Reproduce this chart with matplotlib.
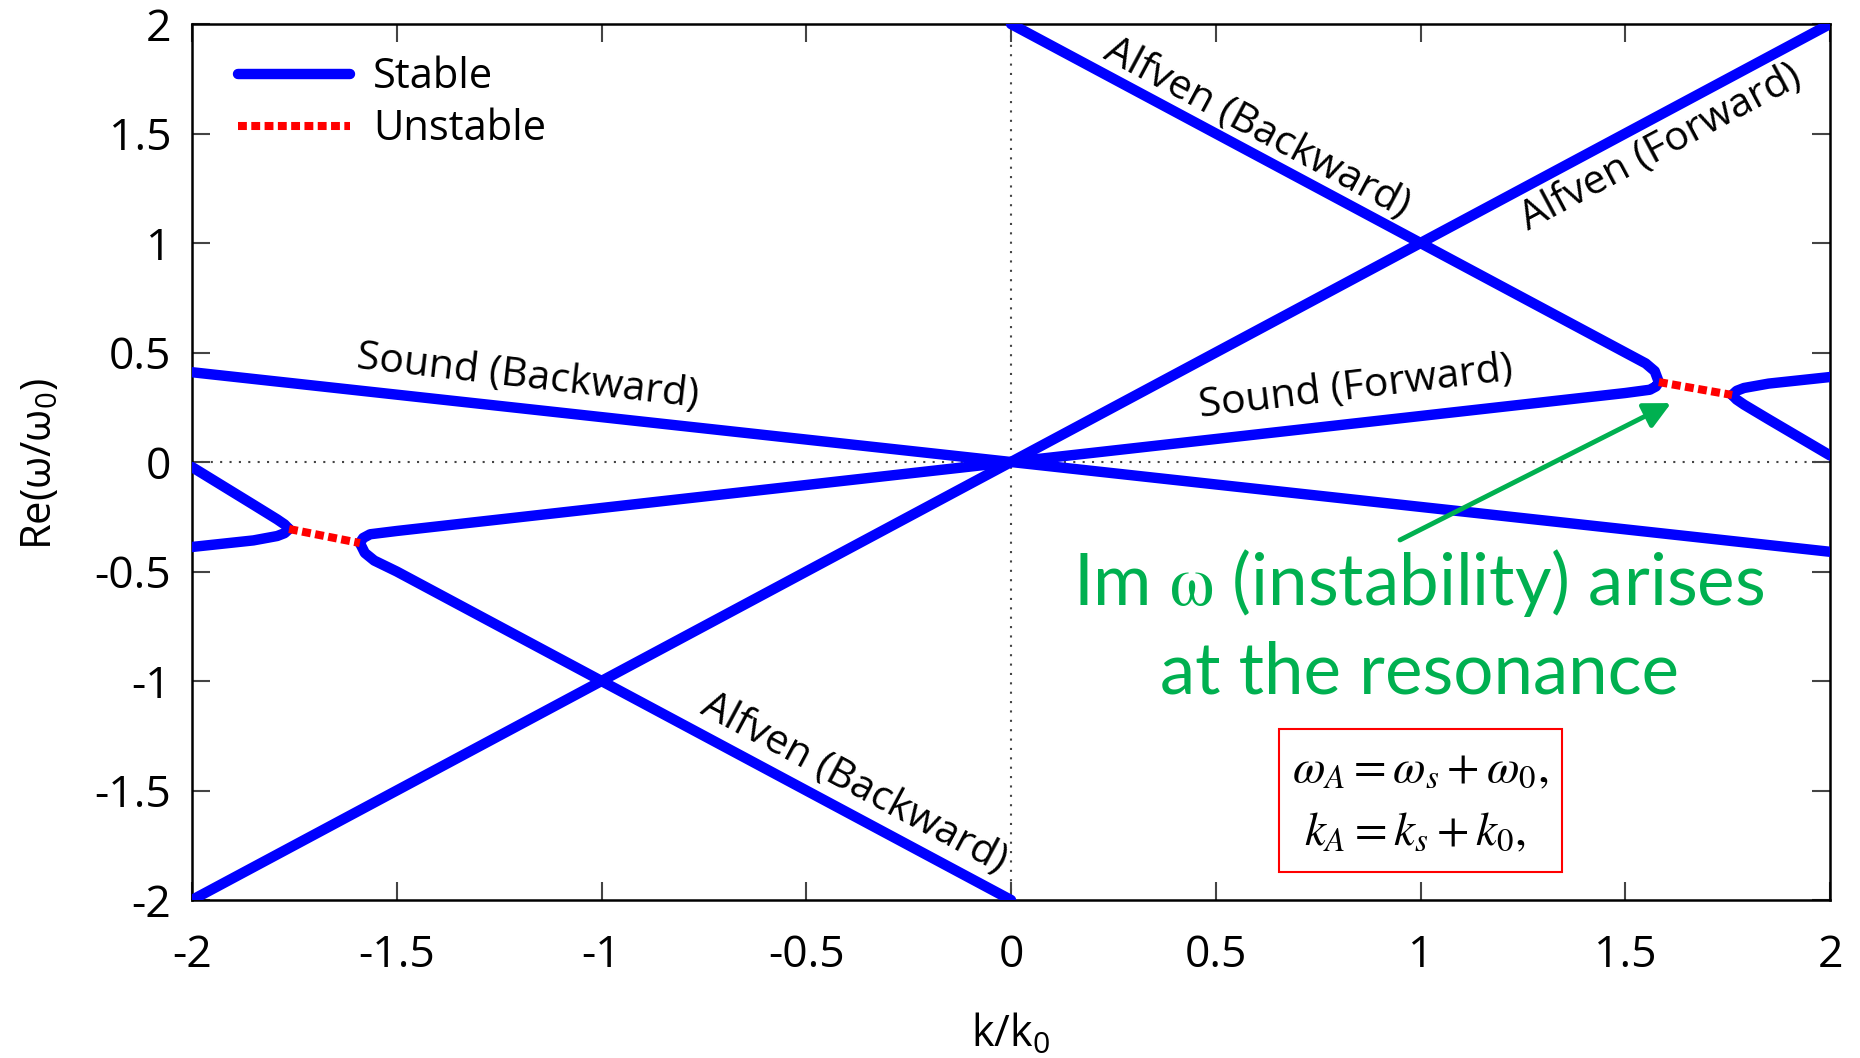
import matplotlib
matplotlib.use("Agg")
import matplotlib.pyplot as plt
from matplotlib.patches import Rectangle

plt.rcParams["font.family"] = ["Open Sans", "DejaVu Sans"]
plt.rcParams["mathtext.fontset"] = "custom"
plt.rcParams["mathtext.rm"] = "Open Sans"
plt.rcParams["mathtext.it"] = "Open Sans:italic"
plt.rcParams["axes.unicode_minus"] = False

# branches (k/k0, Re(w/w0))
alfven_fwd_k = [-2.0, 2.0]
alfven_fwd_w = [-2.0, 2.0]
sound_bwd_k = [-2.0, 2.0]
sound_bwd_w = [0.41, -0.41]

# right side, around the resonance near k = 1.67
alfven_bwd_r_k = [0.0, 1.0, 1.5, 1.55, 1.572, 1.582]
alfven_bwd_r_w = [2.0, 1.0, 0.5, 0.45, 0.415, 0.365]
sound_fwd_r_k = [0.0, 1.5, 1.56, 1.575, 1.582]
sound_fwd_r_w = [0.0, 0.315, 0.33, 0.345, 0.365]
upper_r_k = [1.761, 1.772, 1.79, 1.85, 2.0]
upper_r_w = [0.306, 0.325, 0.338, 0.358, 0.388]
lower_r_k = [1.761, 1.772, 1.79, 1.85, 2.0]
lower_r_w = [0.306, 0.285, 0.262, 0.195, 0.03]
unstable_r_k = [1.582, 1.761]
unstable_r_w = [0.365, 0.306]

# left side, around the resonance near k = -1.67
alfven_bwd_l_k = [0.0, -1.0, -1.5, -1.555, -1.578, -1.590]
alfven_bwd_l_w = [-2.0, -1.0, -0.5, -0.45, -0.415, -0.370]
sound_fwd_l_k = [0.0, -1.5, -1.565, -1.582, -1.590]
sound_fwd_l_w = [0.0, -0.315, -0.33, -0.347, -0.370]
upper_l_k = [-1.763, -1.774, -1.792, -1.85, -2.0]
upper_l_w = [-0.306, -0.285, -0.262, -0.195, -0.023]
lower_l_k = [-1.763, -1.774, -1.792, -1.85, -2.0]
lower_l_w = [-0.306, -0.325, -0.338, -0.358, -0.388]
unstable_l_k = [-1.763, -1.590]
unstable_l_w = [-0.306, -0.370]

ticks = [-2, -1.5, -1, -0.5, 0, 0.5, 1, 1.5, 2]
tick_labels = ["-2", "-1.5", "-1", "-0.5", "0", "0.5", "1", "1.5", "2"]

blue = "#0000ff"
red = "#ff0000"
green = "#00b050"

fig = plt.figure(figsize=(18.6, 10.58), dpi=100)
ax = fig.add_axes([192 / 1860, 158 / 1058, 1638 / 1860, 876 / 1058])

ax.axhline(0, color="#444444", lw=1.5, ls=(0, (1, 3.5)), zorder=1)
ax.axvline(0, color="#444444", lw=1.5, ls=(0, (1, 3.5)), zorder=1)

stable = dict(color=blue, lw=7.5, solid_capstyle="round", solid_joinstyle="round", zorder=3)
unstable = dict(color=red, lw=5.8, ls=(0, (1.1, 0.55)), dash_capstyle="butt", zorder=4)

ax.plot(alfven_fwd_k, alfven_fwd_w, label="Stable", **stable)
ax.plot(sound_bwd_k, sound_bwd_w, **stable)
for kk, ww in [(alfven_bwd_r_k, alfven_bwd_r_w), (sound_fwd_r_k, sound_fwd_r_w),
               (upper_r_k, upper_r_w), (lower_r_k, lower_r_w),
               (alfven_bwd_l_k, alfven_bwd_l_w), (sound_fwd_l_k, sound_fwd_l_w),
               (upper_l_k, upper_l_w), (lower_l_k, lower_l_w)]:
    ax.plot(kk, ww, **stable)
ax.plot(unstable_r_k, unstable_r_w, label="Unstable", **unstable)
ax.plot(unstable_l_k, unstable_l_w, **unstable)

ax.set_xlim(-2, 2)
ax.set_ylim(-2, 2)
ax.set_xticks(ticks)
ax.set_xticklabels(tick_labels)
ax.set_yticks(ticks)
ax.set_yticklabels(tick_labels)
ax.tick_params(direction="in", length=13, width=1.5, color="#444444",
               top=True, right=True, labelsize=32)
ax.tick_params(axis="x", pad=24)
ax.tick_params(axis="y", pad=15)
for s in ax.spines.values():
    s.set_linewidth(1.8)

fig.text(40 / 1860, 1 - 464 / 1058, "Re(ω/ω$_0$)", rotation=90,
         ha="center", va="center", fontsize=30)
fig.text(1011 / 1860, 11 / 1058, "k/k$_0$", ha="center", va="baseline", fontsize=31)

leg = ax.legend(loc="upper left", bbox_to_anchor=(0.028, 0.963), frameon=False,
                fontsize=30, handlelength=2.7, handletextpad=0.55,
                labelspacing=0.24, borderpad=0, borderaxespad=0)

lab = dict(fontsize=29.5, ha="center", va="center", rotation_mode="anchor")
ax.text(-1.18, 0.388, "Sound (Backward)", rotation=-6.5, **lab)
ax.text(0.843, 0.338, "Sound (Forward)", rotation=6.8, **lab)
ax.text(0.60, 1.52, "Alfven (Backward)", rotation=-28.1, **lab)
ax.text(1.587, 1.434, "Alfven (Forward)", rotation=28.1, **lab)
ax.text(-0.385, -1.47, "Alfven (Backward)", rotation=-28.1, **lab)

ax.annotate("", xy=(1.612, 0.269), xytext=(0.95, -0.356),
            arrowprops=dict(arrowstyle="-|>", color=green, lw=3.5,
                            mutation_scale=40, shrinkA=0, shrinkB=0))

fig.text(1419 / 1860, 1 - 583 / 1058, r"Im $\mathrm{\omega}$ (instability) arises",
         color=green, fontsize=51, family="Lato", math_fontfamily="stix",
         ha="center", va="center")
fig.text(1419 / 1860, 1 - 673 / 1058, "at the resonance",
         color=green, fontsize=51, family="Lato", ha="center", va="center")

fig.patches.append(Rectangle((1279 / 1860, 1 - 872 / 1058), 283 / 1860, 143 / 1058,
                             transform=fig.transFigure, fill=False,
                             edgecolor=red, lw=1.5))
fig.text(1420 / 1860, 1 - 770 / 1058, r"$\omega_A = \omega_s + \omega_0,$",
         fontsize=34, math_fontfamily="stix", ha="center", va="center")
fig.text(1415 / 1860, 1 - 833 / 1058, r"$k_A = k_s + k_0,$",
         fontsize=34, math_fontfamily="stix", ha="center", va="center")

plt.savefig("out.png", dpi=100)
